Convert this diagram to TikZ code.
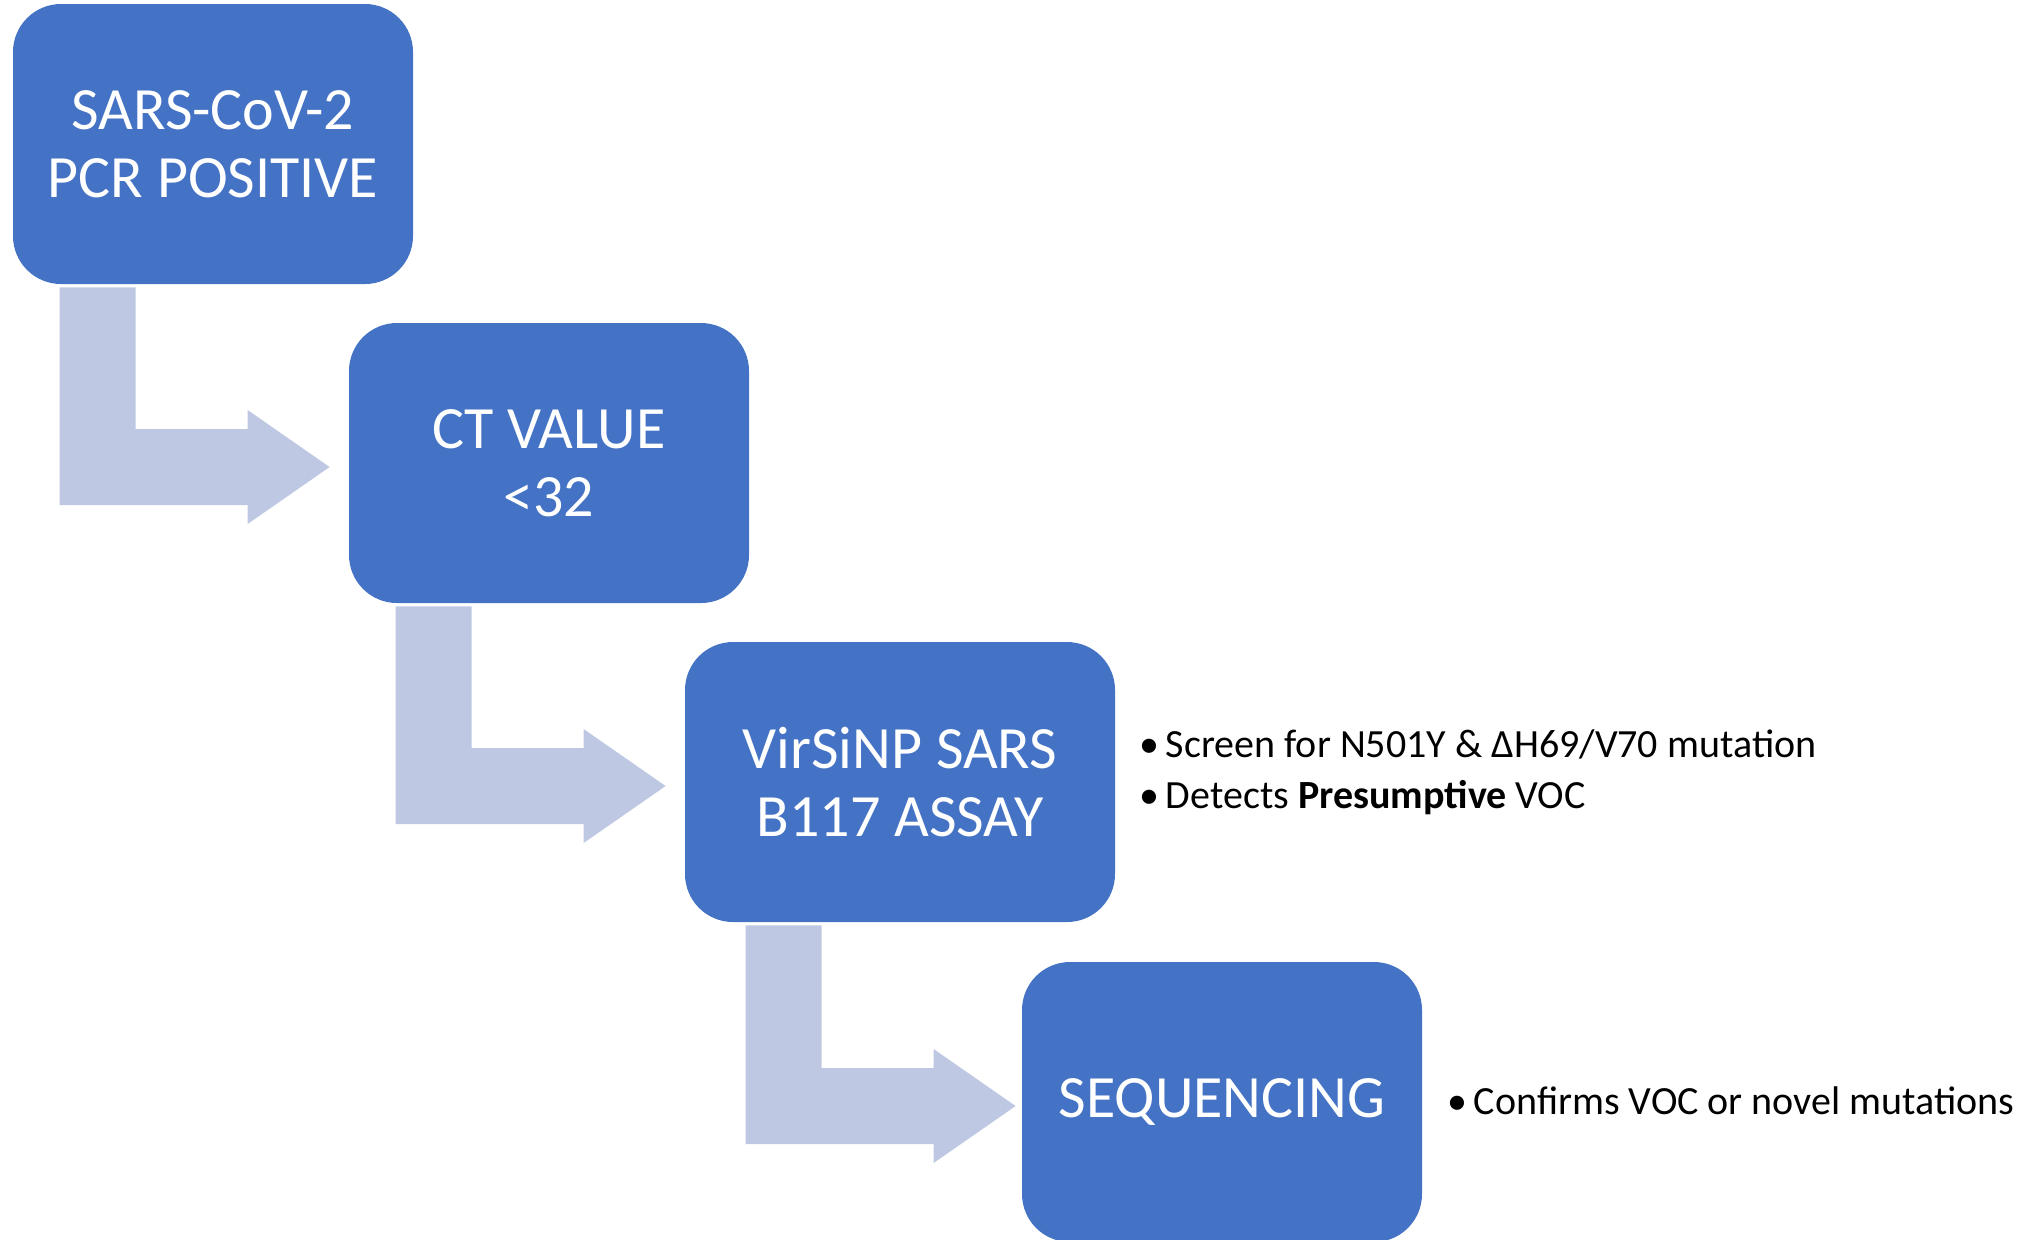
\documentclass[tikz,border=0pt]{standalone}
\usepackage{fontspec}
\setmainfont{Carlito}
\usepackage{tikz}
\usetikzlibrary{calc}
\definecolor{boxblu}{RGB}{68,114,196}
\definecolor{frecciablu}{RGB}{190,200,227}
% freccia piegata: sorgente, destinazione, scarto del gambo, distanza della punta
\newcommand{\freccia}[4]{
\fill[frecciablu] ($(#1.south west)+(#3,3)$) |- ($(#2.west)+({-82-#4},42)$) -- ++(0,19) -- ($(#2.west)+(-#4,4)$) -- ++(-82,-57) -- ++(0,19) -| ($(#1.south west)+({#3+76},3)$) -- cycle;
}

\begin{document}
\begin{tikzpicture}[x=0.5pt, y=-0.5pt,
    passo/.style={fill=boxblu, text=white, rounded corners=24pt, minimum height=140pt, minimum width=200pt, align=center, font=\fontsize{30}{34}\selectfont},
    nota/.style={anchor=west, inner sep=0pt, align=left, font=\fontsize{20}{25.5}\selectfont}]
    \useasboundingbox (0,0) rectangle (2038,1239);
    % Riquadri
    \node[passo] (pcr) at (213,144) {SARS-CoV-2\\PCR POSITIVE};
    \node[passo] (ct) at (549,463) {CT VALUE\\<32};
    \node[passo, minimum width=215pt] (assay) at (900,782) {VirSiNP SARS\\B117 ASSAY};
    \node[passo] (seq) at (1222,1102) {SEQUENCING};
    % Frecce
    \freccia{pcr}{ct}{47}{19}
    \freccia{ct}{assay}{47}{19}
    \freccia{assay}{seq}{61}{6}
    % Note
    \node[nota] (nota3) at (1139,772) {•\,Screen for N501Y \& ΔH69/V70 mutation\\•\,Detects \textbf{Presumptive} VOC};
    \node[nota] (nota4) at (1447,1101) {•\,Confirms VOC or novel mutations};
\end{tikzpicture}
\end{document}
